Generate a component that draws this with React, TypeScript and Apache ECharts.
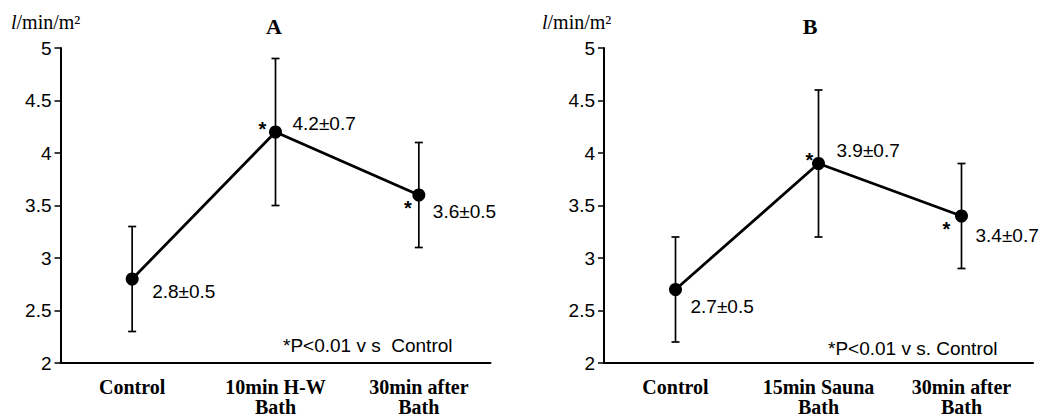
import React, { useEffect, useRef } from "react";
import * as echarts from "echarts";

// ---- data ----
const categoriesA = ["Control", "10min H-W\nBath", "30min after\nBath"];
const categoriesB = ["Control", "15min Sauna\nBath", "30min after\nBath"];
const meanA = [2.8, 4.2, 3.6];
const sdA = [0.5, 0.7, 0.5];
const meanB = [2.7, 3.9, 3.4];
const sdB = [0.5, 0.7, 0.5];
const labelsA = ["2.8±0.5", "4.2±0.7", "3.6±0.5"];
const labelsB = ["2.7±0.5", "3.9±0.7", "3.4±0.7"];
const significantA = [false, true, true];
const significantB = [false, true, true];
const yMin = 2;
const yMax = 5;
const yInterval = 0.5;
const panelTitles = ["A", "B"];
const unitLabel = "l/min/m²";
const noteA = "*P<0.01 v s  Control";
const noteB = "*P<0.01 v s. Control";

// ---- layout (positions only) ----
const labelOffsetsA = [[20, 12], [17, -9], [14, 16]];
const labelOffsetsB = [[15, 17], [18, -13], [14, 19]];
const starOffsetsA = [[0, 0], [-13, -8], [-11, 8]];
const starOffsetsB = [[0, 0], [-9, -9], [-15, 8]];

const SANS = "Liberation Sans";
const SERIF = "Liberation Serif";

function errorSeries(idx: number, mean: number[], sd: number[]) {
  return {
    type: "custom",
    xAxisIndex: idx,
    yAxisIndex: idx,
    z: 1,
    data: mean.map((m, i) => [i, m - sd[i], m + sd[i]]),
    encode: { x: 0, y: [1, 2] },
    renderItem: (params: any, api: any) => {
      const lo = api.coord([api.value(0), api.value(1)]);
      const hi = api.coord([api.value(0), api.value(2)]);
      const cw = 4;
      const style = { stroke: "#000", lineWidth: 1.7 };
      return {
        type: "group",
        children: [
          { type: "line", shape: { x1: lo[0], y1: lo[1], x2: hi[0], y2: hi[1] }, style },
          { type: "line", shape: { x1: lo[0] - cw, y1: lo[1], x2: lo[0] + cw, y2: lo[1] }, style },
          { type: "line", shape: { x1: hi[0] - cw, y1: hi[1], x2: hi[0] + cw, y2: hi[1] }, style },
        ],
      };
    },
  };
}

function textSeries(
  idx: number,
  mean: number[],
  labels: string[],
  offsets: number[][],
  sig: boolean[],
  stars: number[][]
) {
  return {
    type: "custom",
    xAxisIndex: idx,
    yAxisIndex: idx,
    z: 5,
    data: mean.map((m, i) => [i, m]),
    encode: { x: 0, y: 1 },
    renderItem: (params: any, api: any) => {
      const i = params.dataIndex;
      const p = api.coord([api.value(0), api.value(1)]);
      const children: any[] = [
        {
          type: "text",
          x: p[0] + offsets[i][0],
          y: p[1] + offsets[i][1],
          style: {
            text: labels[i],
            fill: "#000",
            font: `19px "${SANS}"`,
            align: "left",
            verticalAlign: "middle",
          },
        },
      ];
      if (sig[i]) {
        children.push({
          type: "text",
          x: p[0] + stars[i][0],
          y: p[1] + stars[i][1] + 5,
          style: {
            text: "*",
            fill: "#000",
            font: `bold 20px "${SANS}"`,
            align: "center",
            verticalAlign: "middle",
          },
        });
      }
      return { type: "group", children };
    },
  };
}

function lineSeries(idx: number, mean: number[]) {
  return {
    type: "line",
    xAxisIndex: idx,
    yAxisIndex: idx,
    z: 3,
    data: mean,
    symbol: "circle",
    symbolSize: 13,
    itemStyle: { color: "#000" },
    lineStyle: { color: "#000", width: 2.8 },
  };
}

function xAxis(idx: number, cats: string[]) {
  return {
    type: "category",
    gridIndex: idx,
    data: cats,
    boundaryGap: true,
    axisLine: { lineStyle: { color: "#000", width: 2 } },
    axisTick: { alignWithLabel: true, length: 6, lineStyle: { color: "#000", width: 1.5 } },
    axisLabel: {
      color: "#000",
      fontFamily: SERIF,
      fontWeight: "bold",
      fontSize: 20,
      lineHeight: 20,
      margin: 14,
      interval: 0,
    },
    splitLine: { show: false },
  };
}

function yAxis(idx: number) {
  return {
    type: "value",
    gridIndex: idx,
    min: yMin,
    max: yMax,
    interval: yInterval,
    axisLine: { show: true, lineStyle: { color: "#000", width: 2 } },
    axisTick: { show: true, length: 6, lineStyle: { color: "#000", width: 1.5 } },
    axisLabel: { color: "#000", fontFamily: SANS, fontSize: 19, margin: 9 },
    splitLine: { show: false },
  };
}

export default function App() {
  const ref = useRef<HTMLDivElement>(null);
  useEffect(() => {
    if (!ref.current) return;
    const chart = echarts.init(ref.current, undefined, { renderer: "svg" });
    const unitText = (x: number) => ({
      type: "text",
      left: x,
      top: 12,
      style: {
        text: "{i|l}{n|" + unitLabel.slice(1) + "}",
        rich: {
          i: { fontFamily: SERIF, fontStyle: "italic", fontSize: 20, fill: "#000" },
          n: { fontFamily: SERIF, fontSize: 20, fill: "#000" },
        },
      },
    });
    const titleText = (x: number, t: string) => ({
      type: "text",
      x,
      y: 26,
      style: {
        text: t,
        font: `bold 22px "${SERIF}"`,
        fill: "#000",
        align: "center",
        verticalAlign: "middle",
      },
    });
    chart.setOption({
      animation: false,
      backgroundColor: "#fff",
      grid: [
        { left: 60.5, top: 48, width: 430, height: 320 },
        { left: 604, top: 48, width: 429, height: 320 },
      ],
      xAxis: [xAxis(0, categoriesA), xAxis(1, categoriesB)],
      yAxis: [yAxis(0), yAxis(1)],
      graphic: [
        unitText(11),
        unitText(542),
        titleText(274, panelTitles[0]),
        titleText(810, panelTitles[1]),
        {
          type: "text",
          x: 283,
          y: 345,
          style: { text: noteA, font: `19px "${SANS}"`, fill: "#000", align: "left", verticalAlign: "middle" },
        },
        {
          type: "text",
          x: 828,
          y: 348,
          style: { text: noteB, font: `19px "${SANS}"`, fill: "#000", align: "left", verticalAlign: "middle" },
        },
      ],
      series: [
        errorSeries(0, meanA, sdA),
        errorSeries(1, meanB, sdB),
        lineSeries(0, meanA),
        lineSeries(1, meanB),
        textSeries(0, meanA, labelsA, labelOffsetsA, significantA, starOffsetsA),
        textSeries(1, meanB, labelsB, labelOffsetsB, significantB, starOffsetsB),
      ],
    });
    return () => chart.dispose();
  }, []);
  return (
    <div
      ref={ref}
      style={{ position: "absolute", left: 0, top: 0, width: 1046, height: 417, background: "#fff" }}
    />
  );
}
